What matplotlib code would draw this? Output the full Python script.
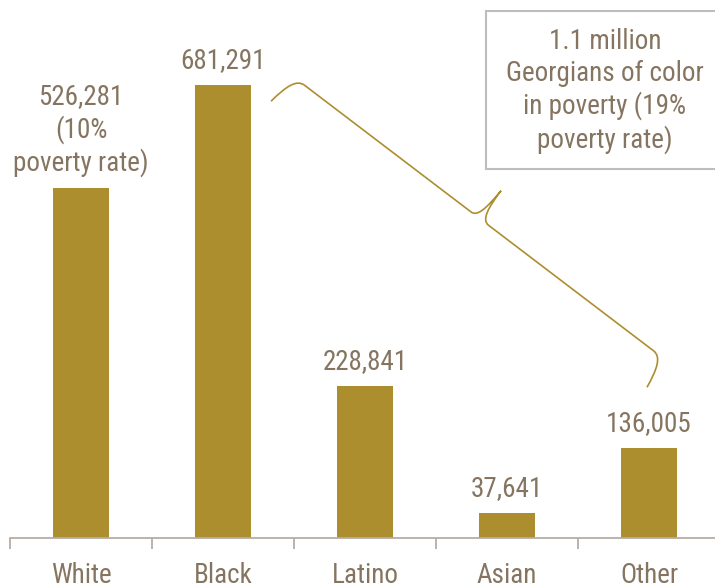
import matplotlib
matplotlib.use("Agg")
import matplotlib.pyplot as plt
import numpy as np
from matplotlib.patches import Rectangle, PathPatch
from matplotlib.path import Path

categories = ["White", "Black", "Latino", "Asian", "Other"]
values = [526281, 681291, 228841, 37641, 136005]
value_labels = ["526,281\n(10%\npoverty rate)", "681,291", "228,841", "37,641", "136,005"]
box_text = "1.1 million\nGeorgians of color\nin poverty (19%\npoverty rate)"

BAR = "#AD8E2F"
TXT = "#857560"
AX = "#B5ADA5"
FONT = ["Roboto Condensed", "DejaVu Sans"]
FS = 19.5

W, H = 715, 586
fig = plt.figure(figsize=(W / 100, H / 100), dpi=100)
ax_left, ax_right = 10, 720
ax_base = 538
ax = fig.add_axes([ax_left / W, 1 - ax_base / H, (ax_right - ax_left) / W, ax_base / H])
ax.set_xlim(-0.5, 4.5)
px_per_unit = 665e-6
ax.set_ylim(0, ax_base / px_per_unit)

x = np.arange(len(categories))
ax.bar(x, values, width=0.4, color=BAR, zorder=2)

for s in ["top", "right", "left"]:
    ax.spines[s].set_visible(False)
ax.spines["bottom"].set_color(AX)
ax.spines["bottom"].set_linewidth(1.3)
ax.set_yticks([])
ax.set_xticks(np.arange(-0.5, 5.0, 1.0))
ax.set_xticklabels([])
ax.tick_params(axis="x", length=8, width=1.3, color=AX)
for xi, c in zip(x, categories):
    ax.text(xi, -45 / px_per_unit, c, ha="center", va="baseline", fontsize=FS,
            family=FONT, color=TXT)

for xi, v, lab in zip(x, values, value_labels):
    ax.annotate(lab, (xi, v), xytext=(0, 11), textcoords="offset pixels",
                ha="center", va="bottom", fontsize=FS, family=FONT, color=TXT,
                linespacing=1.21)

fig.patches.append(Rectangle((486 / W, 1 - 169 / H), (720 - 486) / W, (169 - 11) / H,
                             transform=fig.transFigure, facecolor="white",
                             edgecolor="#BDBDBD", linewidth=1.5))
fig.text(605 / W, 1 - 91 / H, box_text, ha="center", va="center", fontsize=FS,
         family=FONT, color=TXT, linespacing=1.23)

# curly brace (pixel coords, y down)
A = np.array([295.0, 78.0])
B = np.array([663.0, 358.0])
d = B - A
L = np.linalg.norm(d)
d = d / L
n = np.array([d[1], -d[0]])
h = 33.0
m = L / 2
local = [
    ((-5, -h), Path.MOVETO),
    ((-2, -12), Path.CURVE4), ((2, 0), Path.CURVE4), ((12, 0), Path.CURVE4),
    ((m - 10, 0), Path.LINETO),
    ((m - 2, 0), Path.CURVE4), ((m, 12), Path.CURVE4), ((m + 1, h + 2), Path.CURVE4),
    ((m + 1, 14), Path.CURVE4), ((m + 3, 0), Path.CURVE4), ((m + 12, 0), Path.CURVE4),
    ((L - 12, 0), Path.LINETO),
    ((L - 2, 0), Path.CURVE4), ((L + 2, -12), Path.CURVE4), ((L + 5, -h), Path.CURVE4),
]
verts, codes = [], []
for (s, t), c in local:
    p = A + s * d + t * n
    verts.append((p[0] / W, 1 - p[1] / H))
    codes.append(c)
fig.patches.append(PathPatch(Path(verts, codes), transform=fig.transFigure,
                             facecolor="none", edgecolor=BAR, linewidth=1.2))

fig.savefig("out.png", dpi=100)
